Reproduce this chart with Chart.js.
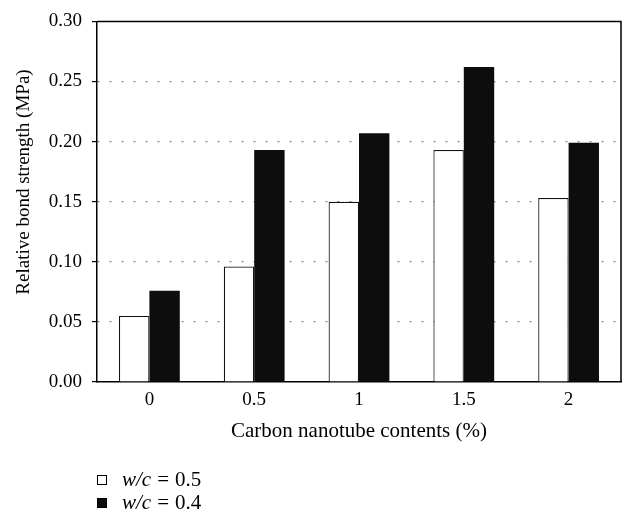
<!DOCTYPE html>
<html>
<head>
<meta charset="utf-8">
<script src="https://cdn.jsdelivr.net/npm/chart.js@4"></script>
<style>
  html, body { margin: 0; padding: 0; background: #fff; }
  #wrap { position: relative; width: 625px; height: 515px; }
</style>
</head>
<body>
<div id="wrap"><canvas id="c" width="625" height="515"></canvas></div>
<script>
const categories = ['0', '0.5', '1', '1.5', '2'];
const wc05 = [0.055, 0.096, 0.150, 0.193, 0.153];
const wc04 = [0.076, 0.193, 0.207, 0.262, 0.199];
const seriesLabels = ['w/c = 0.5', 'w/c = 0.4'];
const yTicks = [0, 0.05, 0.10, 0.15, 0.20, 0.25, 0.30];
const xTitle = 'Carbon nanotube contents (%)';
const yTitle = 'Relative bond strength (MPa)';

const FONT = '"Liberation Serif", "DejaVu Serif", serif';

const boxPlugin = {
  id: 'boxPlugin',
  afterDraw(chart) {
    const {ctx, chartArea: a} = chart;
    ctx.save();
    ctx.strokeStyle = '#000';
    ctx.lineWidth = 1.5;
    ctx.beginPath();
    ctx.moveTo(a.left, a.top);
    ctx.lineTo(a.right, a.top);
    ctx.lineTo(a.right, a.bottom);
    ctx.stroke();
    ctx.restore();
  }
};

const yTitlePlugin = {
  id: 'yTitle',
  afterDraw(chart) {
    const {ctx} = chart;
    ctx.save();
    ctx.translate(24, 182);
    ctx.rotate(-Math.PI / 2);
    ctx.fillStyle = '#000';
    ctx.font = '19px ' + FONT;
    ctx.textAlign = 'center';
    ctx.textBaseline = 'middle';
    ctx.fillText(yTitle, 0, 0);
    ctx.restore();
  }
};

const legendPlugin = {
  id: 'customLegend',
  afterDraw(chart) {
    const {ctx} = chart;
    const rows = [480, 503];
    ctx.save();
    chart.data.datasets.forEach((ds, i) => {
      const y = rows[i];
      ctx.fillStyle = ds.backgroundColor;
      ctx.strokeStyle = '#000';
      ctx.lineWidth = 1;
      ctx.fillRect(97.5, y - 4.5, 9, 9);
      ctx.strokeRect(97.5, y - 4.5, 9, 9);
      const parts = ds.label.split(' = ');
      ctx.fillStyle = '#000';
      ctx.textBaseline = 'middle';
      ctx.font = 'italic 21px ' + FONT;
      ctx.fillText(parts[0], 122, y);
      let x = 122 + ctx.measureText(parts[0]).width + 6;
      ctx.font = '21px ' + FONT;
      ctx.fillText('=', x, y);
      x += ctx.measureText('=').width + 6;
      ctx.fillText(parts[1], x, y);
    });
    ctx.restore();
  }
};

new Chart(document.getElementById('c'), {
  type: 'bar',
  data: {
    labels: categories,
    datasets: [
      { label: seriesLabels[0], data: wc05, backgroundColor: '#ffffff', borderColor: '#111', borderWidth: 1.2 },
      { label: seriesLabels[1], data: wc04, backgroundColor: '#0d0d0d', borderColor: '#0d0d0d', borderWidth: 0 }
    ]
  },
  options: {
    responsive: false,
    animation: false,
    events: [],
    layout: { padding: { left: 0, right: 4, top: 14, bottom: 71 } },
    datasets: { bar: { categoryPercentage: 0.58, barPercentage: 1.0 } },
    plugins: { legend: { display: false }, tooltip: { enabled: false } },
    scales: {
      x: {
        grid: { display: false, drawTicks: false },
        border: { display: true, color: '#000', width: 1.5 },
        ticks: { color: '#000', font: { family: FONT, size: 19 }, padding: 7 },
        title: { display: true, text: xTitle, color: '#000', font: { family: FONT, size: 21 }, padding: { top: 10, bottom: 0 } },
        afterFit(s) { s.height = 62; }
      },
      y: {
        min: 0, max: 0.30,
        afterBuildTicks(s) { s.ticks = yTicks.map(v => ({ value: v })); },
        grid: {
          color: (c) => (c.tick && (c.tick.value === 0 || c.tick.value >= 0.299)) ? 'rgba(0,0,0,0)' : '#888',
          lineWidth: 1.2,
          drawTicks: true,
          tickLength: 5,
          tickColor: '#000',
          tickWidth: 1.2,
          tickBorderDash: [0, 0]
        },
        border: { display: true, color: '#000', width: 1.5, dash: [2, 10] },
        ticks: { color: '#000', font: { family: FONT, size: 19 }, padding: 10, callback: (v) => Number(v).toFixed(2) },
        title: { display: false },
        afterFit(s) { s.width = 97; }
      }
    }
  },
  plugins: [boxPlugin, yTitlePlugin, legendPlugin]
});
</script>
</body>
</html>
